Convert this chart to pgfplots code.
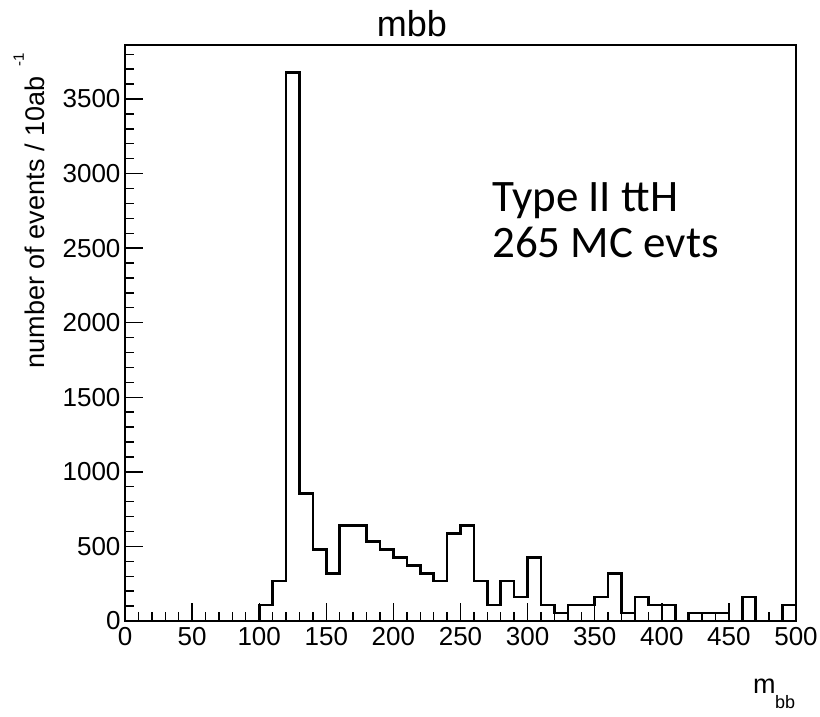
\documentclass[border=0pt]{standalone}
\usepackage{fontspec}
\setmainfont{Liberation Sans}
\newfontfamily\carlito{Carlito}
\usepackage{pgfplots}
\usepackage{pgfplotstable}
\pgfplotsset{compat=1.18}
\pgfplotstableread{
x y
0 0
10 0
20 0
30 0
40 0
50 0
60 0
70 0
80 0
90 0
100 107
110 267
120 3678
130 853
140 480
150 320
160 640
170 640
180 533
190 480
200 426
210 373
220 320
230 267
240 586
250 640
260 267
270 107
280 267
290 160
300 426
310 107
320 53
330 107
340 107
350 160
360 320
370 53
380 160
390 107
400 107
410 0
420 53
430 53
440 53
450 0
460 160
470 0
480 0
490 107
500 107
500 0
}\mbbdata
\begin{document}
\begin{tikzpicture}[x=1pt,y=1pt]
\path[use as bounding box] (0,0) rectangle (820,716);
\begin{axis}[
  at={(125pt,95pt)}, anchor=south west,
  scale only axis, width=671pt, height=576pt,
  xmin=0, xmax=500, ymin=0, ymax=3862,
  xtick distance=50, ytick distance=500,
  minor x tick num=4, minor y tick num=4,
  tick pos=left,
  tick align=inside,
  major tick length=18pt, minor tick length=9pt,
  axis line style={line width=1.6pt},
  every tick/.style={black, line width=1.4pt},
  scaled ticks=false,
  ticklabel style={font=\fontsize{26}{26}\selectfont},
  xticklabel style={yshift=-3pt},
  yticklabel style={xshift=-1pt},
  xticklabel={\pgfmathprintnumber[assume math mode=true,1000 sep={}]{\tick}},
  yticklabel={\ifnum\ticknum=0 \raisebox{12pt}{0}\else\pgfmathprintnumber[assume math mode=true,1000 sep={}]{\tick}\fi},
]
\addplot[const plot mark left, black, line width=2.6pt, line join=miter] table[x=x,y=y] {\mbbdata};
\end{axis}
\node[anchor=base, font=\fontsize{36}{36}\selectfont] at (412,679) {mbb};
\node[rotate=90, anchor=base east, font=\fontsize{27}{27}\selectfont] at (45,666) {number of events / 10ab\hspace{10pt}\raisebox{21pt}{\fontsize{15}{15}\selectfont -1}};
\node[anchor=base west, font=\fontsize{27}{27}\selectfont, inner sep=0pt] at (753,23) {m};
\node[anchor=base west, font=\fontsize{18}{18}\selectfont, inner sep=0pt] at (775,8) {bb};
\node[anchor=base west, font=\carlito\fontsize{45}{45}\selectfont, inner sep=0pt] at (492,504) {Type II ttH};
\node[anchor=base west, font=\carlito\fontsize{45}{45}\selectfont, inner sep=0pt] at (492,458) {265 MC evts};
\end{tikzpicture}
\end{document}
